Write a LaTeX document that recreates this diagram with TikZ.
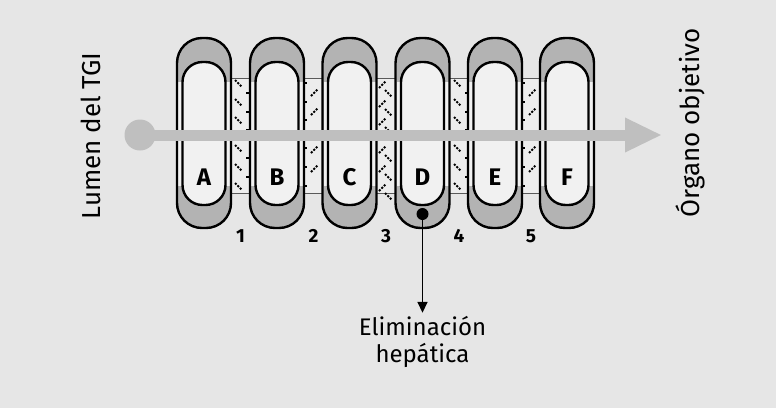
\documentclass[tikz,border=0pt]{standalone}
\usepackage{fontspec}
\setmainfont{Fira Sans}
\usetikzlibrary{arrows.meta}
\definecolor{paper}{HTML}{E6E6E6}
\definecolor{capgray}{HTML}{B3B3B3}
\definecolor{flowgray}{HTML}{BFBFBF}
\definecolor{cellwhite}{HTML}{F1F1F1}
\tikzset{
    wall/.style={line width=2.4pt, black},
    hatch/.style={line width=2pt, dash pattern=on 2pt off 1.5pt},
    wtick/.style={line width=2pt},
    flow/.style={line width=11pt, flowgray, -{Triangle[length=37pt,width=32pt]}},
    gapnum/.style={font=\fontsize{19}{19}\selectfont\bfseries},
    celllbl/.style={font=\fontsize{24}{24}\selectfont\bfseries},
    sidelbl/.style={rotate=90, font=\fontsize{26}{26}\selectfont},
}
\begin{document}
\begin{tikzpicture}[x=1pt,y=-1pt]
        \fill[paper] (0,0) rectangle (776,408);
        \useasboundingbox (0,0) rectangle (776,408);
        % junctions
            \foreach \xl/\xr in {231/250,304/323,377/395,450/468,522/540}{
                \fill[cellwhite!60!paper] (\xl,78) rectangle (\xr,193);
                \draw[gray!70!black, line width=0.9pt] (\xl,78) -- (\xr,78) (\xl,193) -- (\xr,193);
            }
            % gaps 1 and 4
            \foreach \xl in {231,450}{
                \foreach \y in {84,103,121,149,168,187}
                    \draw[hatch] (\xl+4,\y-4) -- (\xl+11,\y+3);
                \foreach \y in {93,112,130,158,177}
                    \draw[wtick] (\xl+15,\y) -- (\xl+18,\y);
            }
            % gaps 2 and 5
            \foreach \xl in {304,522}{
                \foreach \y in {92,111,149,168}
                    \draw[hatch] (\xl+7,\y+4) -- (\xl+14,\y-3);
                \foreach \y in {83,102,120,148,167,186}
                    \draw[wtick] (\xl,\y) -- (\xl+3,\y);
            }
            % gap 3
            \foreach \y in {84,103,121,149,168,187}{
                \draw[hatch] (379,\y+4) -- (386,\y-3);
                \draw[hatch] (385,\y+6) -- (392,\y+13);
            }
        % cells
            \foreach \c/\x in {A/204,B/277,C/349.5,D/422.5,E/495,F/567}{
                \fill[capgray, rounded corners=25pt] (\x-27,38) rectangle (\x+27,228);
                \fill[cellwhite] (\x-26,82) rectangle (\x+26,186);
                \draw[wall, fill=cellwhite, rounded corners=20pt] (\x-21.5,62) rectangle (\x+21.5,205);
                \draw[wall, rounded corners=25pt] (\x-27,38) rectangle (\x+27,228);
                \node[celllbl] (cell\c) at (\x,177) {\c};
            }
            \foreach \n/\x in {1/240.5,2/313.5,3/386,4/459,5/531}
                \node[gapnum] (gap\n) at (\x,236) {\n};
        % route
            \node[circle, fill=flowgray, minimum size=31pt, inner sep=0pt] (lumen) at (140,135) {};
            \coordinate (organ) at (662,135);
            \draw[flow] (lumen.center) -- (organ);
        % elimination
            \node[circle, fill=black, minimum size=12pt, inner sep=0pt] (liver) at (422.5,214) {};
            \node[align=center, font=\fontsize{24}{27}\selectfont] (elim) at (422.5,342) {Eliminación\\hepática};
            \draw[line width=1.6pt, -{Triangle[length=11pt,width=10pt]}] (liver.center) -- (elim.north);
        % labels
            \node[sidelbl] (lumenlbl) at (91,136) {Lumen del TGI};
            \node[sidelbl] (organlbl) at (690,123) {Órgano objetivo};
\end{tikzpicture}
\end{document}
